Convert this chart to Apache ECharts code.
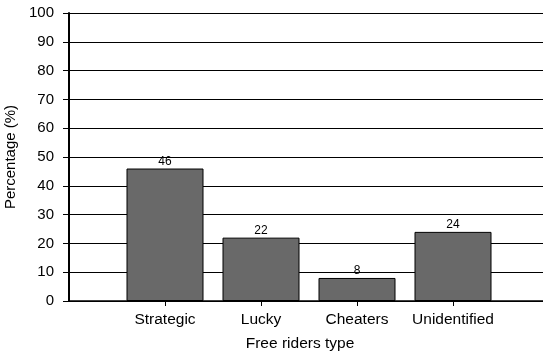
<!DOCTYPE html>
<html>
<head>
	<meta charset="utf-8">
	<title></title>
	<script src="https://cdn.jsdelivr.net/npm/echarts@6/dist/echarts.min.js"></script>
	<style>
	html, body { margin: 0; padding: 0; background: #fff; }
	#main { width: 543px; height: 356px; }
	</style>
</head>
<body>
	<div id="main"></div>
	<script>
		var categories = ['Strategic', 'Lucky', 'Cheaters', 'Unidentified'];
		var values = [46, 22, 8, 24];
		var yTicks = [0, 10, 20, 30, 40, 50, 60, 70, 80, 90, 100];

		// empty slot before and after so the bars sit like the original
		var xData = [''].concat(categories).concat(['']);
		var barData = [null].concat(values).concat([null]);

		var myChart = echarts.init(document.getElementById('main'));
		var font = 'Liberation Sans, Arial, sans-serif';

		var option = {
			animation: false,
			grid: { left: 69, top: 13, bottom: 55, right: -6, outerBoundsMode: 'none', containLabel: false },
			xAxis: {
				type: 'category',
				data: xData,
				boundaryGap: false,
				axisLine: { lineStyle: { color: '#000', width: 1.5 } },
				axisTick: {
					length: 5,
					lineStyle: { color: '#000' },
					interval: function (i, v) { return v !== ''; }
				},
				axisLabel: {
					color: '#000', fontSize: 15.5, fontFamily: font, margin: 11,
					interval: 0
				}
			},
			yAxis: {
				type: 'value',
				min: yTicks[0],
				max: yTicks[yTicks.length - 1],
				interval: 10,
				name: 'Percentage (%)',
				nameLocation: 'middle',
				nameGap: 48,
				nameTextStyle: { color: '#000', fontSize: 15, fontFamily: font },
				axisLine: { show: true, lineStyle: { color: '#000', width: 2 } },
				axisTick: { show: true, length: 6, lineStyle: { color: '#000' } },
				axisLabel: { color: '#000', fontSize: 15, fontFamily: font, margin: 15 },
				splitLine: { lineStyle: { color: '#000', width: 1 } }
			},
			graphic: [{
				type: 'text',
				x: 300,
				y: 336,
				style: {
					text: 'Free riders type',
					fill: '#000',
					font: '15.5px Liberation Sans, Arial, sans-serif',
					align: 'center'
				}
			}],
			series: [{
				type: 'bar',
				data: barData,
				barWidth: 77,
				itemStyle: { color: '#696969', borderColor: '#000', borderWidth: 1 },
				label: {
					show: true,
					position: 'top',
					distance: 1,
					color: '#000',
					fontSize: 12,
					fontFamily: font
				}
			}]
		};
		myChart.setOption(option);
	</script>
</body>
</html>
